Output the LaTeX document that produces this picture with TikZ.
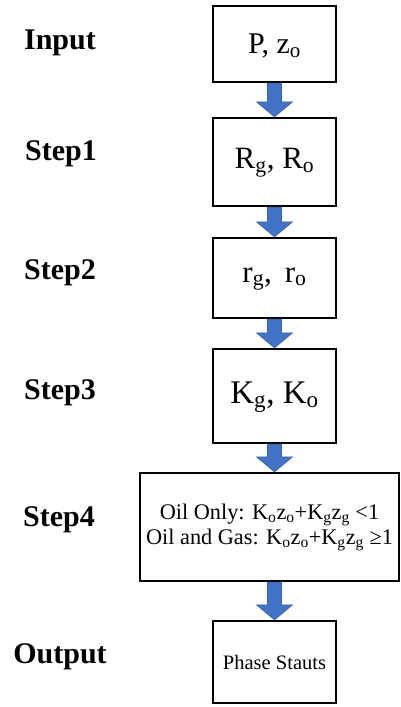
\documentclass[tikz,border=0pt]{standalone}
\usepackage{fontspec}
\setmainfont{Liberation Serif}
\usetikzlibrary{calc}
\definecolor{arrowblue}{HTML}{4472C4}
\definecolor{arrowedge}{HTML}{3A62A8}
\tikzset{
  stepbox/.style={draw=black, line width=2.2pt, fill=white, inner sep=0pt, align=center},
  steplabel/.style={font=\bfseries\fontsize{30}{32}\selectfont, inner sep=0pt},
}
% block arrow along the flow axis, from the bottom of one box to the top of the next
\newcommand{\blockarrow}[2]{%
  \fill[arrowblue, draw=arrowedge, line width=0.6pt]
    ($(axis |- #1.south)+(-7,0)$) -- ($(axis |- #2.north)+(-7,-15)$) -- ($(axis |- #2.north)+(-18,-15)$)
    -- (axis |- #2.north) -- ($(axis |- #2.north)+(18,-15)$) -- ($(axis |- #2.north)+(7,-15)$)
    -- ($(axis |- #1.south)+(7,0)$) -- cycle;}
\begin{document}
\begin{tikzpicture}[x=1pt, y=-1pt]
  \useasboundingbox (0,0) rectangle (401,707);
  \coordinate (axis) at (274.5,0);

  % row labels
  \node[steplabel] (lin)  at (60,43)  {Input};
  \node[steplabel] (ls1)  at (61,154) {Step1};
  \node[steplabel] (ls2)  at (60,273) {Step2};
  \node[steplabel] (ls3)  at (60,393) {Step3};
  \node[steplabel] (ls4)  at (59,520) {Step4};
  \node[steplabel] (lout) at (60,657) {Output};

  % boxes
  \node[stepbox, minimum width=123pt, minimum height=76pt] (b1) at (274.5,44) {};
  \node[font=\fontsize{30}{32}\selectfont] (t1) at (274.5,46) {P, z\textsubscript{o}};
  \node[stepbox, minimum width=123pt, minimum height=88pt] (b2) at (274.5,162) {};
  \node[font=\fontsize{31}{32}\selectfont] (t2) at (274.5,163) {R\textsubscript{g}, R\textsubscript{o}};
  \node[stepbox, minimum width=123pt, minimum height=80pt] (b3) at (274.5,278) {};
  \node[font=\fontsize{31}{32}\selectfont] (t3) at (274.5,279) {r\textsubscript{g}, \,r\textsubscript{o}};
  \node[stepbox, minimum width=123pt, minimum height=94pt] (b4) at (274.5,396) {};
  \node[font=\fontsize{33}{34}\selectfont] (t4) at (274.5,397) {K\textsubscript{g}, K\textsubscript{o}};
  \node[stepbox, minimum width=259pt, minimum height=108pt,
        font=\fontsize{22.3}{25}\selectfont] (b5) at (269.5,527)
        {Oil Only: K\textsubscript{o}z\textsubscript{o}+K\textsubscript{g}z\textsubscript{g} <1\\
         Oil and Gas: K\textsubscript{o}z\textsubscript{o}+K\textsubscript{g}z\textsubscript{g} ≥1};
  \node[stepbox, minimum width=123pt, minimum height=82pt,
        font=\fontsize{20.5}{24}\selectfont] (b6) at (274.5,662) {Phase Stauts};

  % connectors
  \blockarrow{b1}{b2}
  \blockarrow{b2}{b3}
  \blockarrow{b3}{b4}
  \blockarrow{b4}{b5}
  \blockarrow{b5}{b6}
\end{tikzpicture}
\end{document}
